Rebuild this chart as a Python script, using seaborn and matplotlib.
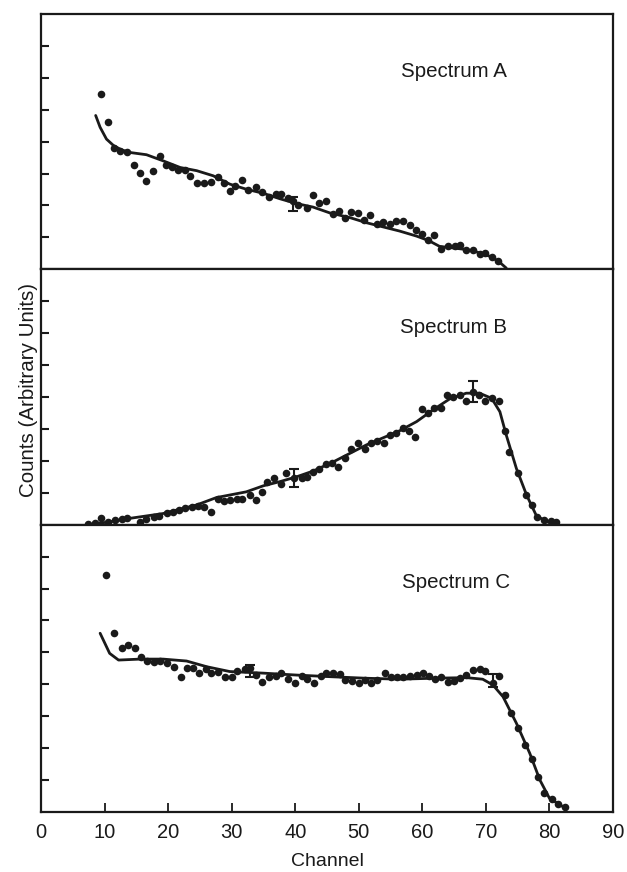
import numpy as np
import pandas as pd
import seaborn as sns
import matplotlib.pyplot as plt

# ---- Spectrum A ----
a_ch = [9.5, 10.6, 11.5, 12.5, 13.6, 14.6, 15.6, 16.5, 17.6, 18.7, 19.7, 20.6, 21.6, 22.6, 23.5,
        24.6, 25.6, 26.7, 27.8, 28.8, 29.7, 30.6, 31.6, 32.6, 33.8, 34.8, 35.8, 36.9, 37.8, 38.8,
        39.7, 40.5, 41.8, 42.8, 43.7, 44.8, 45.9, 46.9, 47.8, 48.8, 49.8, 50.8, 51.7, 52.8, 53.8,
        54.9, 55.9, 57.0, 58.0, 59.0, 59.9, 60.9, 61.8, 62.9, 64.0, 65.1, 66.0, 66.9, 68.0, 69.0,
        69.9, 71.0, 71.9]
a_counts = [5.48, 4.60, 3.81, 3.72, 3.69, 3.28, 3.03, 2.77, 3.08, 3.56, 3.28, 3.19, 3.10, 3.11, 2.91,
            2.69, 2.69, 2.74, 2.90, 2.72, 2.46, 2.60, 2.79, 2.50, 2.58, 2.43, 2.27, 2.35, 2.35, 2.25,
            2.14, 2.02, 1.93, 2.32, 2.07, 2.14, 1.72, 1.83, 1.62, 1.80, 1.75, 1.56, 1.69, 1.41, 1.48,
            1.41, 1.51, 1.51, 1.39, 1.22, 1.12, 0.91, 1.06, 0.64, 0.72, 0.72, 0.76, 0.62, 0.59, 0.49,
            0.51, 0.39, 0.25]
a_fit_ch = [8.6, 9.3, 10.3, 11.4, 12.6, 14.0, 16.6, 19.2, 21.9, 24.5, 27.1, 29.7, 32.3, 35.0, 37.6,
            40.2, 42.8, 45.4, 48.6, 51.2, 53.8, 56.4, 59.1, 61.0, 62.7, 64.8, 66.9, 68.8, 70.6, 72.0, 73.2]
a_fit = [4.82, 4.45, 4.08, 3.88, 3.75, 3.66, 3.59, 3.40, 3.19, 3.09, 2.93, 2.67, 2.51, 2.38, 2.21,
         2.06, 1.95, 1.77, 1.62, 1.46, 1.33, 1.20, 1.04, 0.90, 0.72, 0.67, 0.62, 0.53, 0.41, 0.25, 0.04]
a_err_ch = [39.7]
a_err_y = [2.05]
a_err = [0.22]

# ---- Spectrum B ----
b_ch = [7.4, 8.5, 9.5, 10.6, 11.6, 12.7, 13.6, 15.6, 16.5, 17.7, 18.6, 19.8, 20.7, 21.7, 22.7,
        23.7, 24.7, 25.7, 26.7, 27.8, 28.8, 29.7, 30.8, 31.7, 32.9, 33.8, 34.7, 35.6, 36.7, 37.7,
        38.6, 39.8, 41.0, 41.9, 42.8, 43.8, 44.8, 45.8, 46.8, 47.8, 48.8, 49.9, 50.9, 51.9, 52.9,
        54.0, 54.9, 55.9, 57.0, 57.9, 58.8, 59.9, 60.9, 61.8, 62.9, 63.9, 64.8, 65.9, 66.8, 67.9,
        68.9, 69.9, 70.9, 72.0, 73.0, 73.7, 75.1, 76.3, 77.2, 78.1, 79.1, 80.2, 81.1]
b_counts = [0.01, 0.04, 0.20, 0.07, 0.15, 0.17, 0.20, 0.09, 0.18, 0.25, 0.28, 0.38, 0.41, 0.46, 0.51,
            0.54, 0.59, 0.54, 0.41, 0.81, 0.74, 0.77, 0.79, 0.82, 0.93, 0.77, 1.03, 1.33, 1.47, 1.26,
            1.61, 1.47, 1.47, 1.50, 1.66, 1.76, 1.90, 1.92, 1.80, 2.08, 2.36, 2.55, 2.36, 2.55, 2.63,
            2.57, 2.81, 2.86, 3.02, 2.95, 2.76, 3.61, 3.49, 3.65, 3.65, 4.07, 4.01, 4.07, 3.88, 4.17,
            4.07, 3.88, 3.98, 3.88, 2.95, 2.29, 1.61, 0.93, 0.62, 0.25, 0.15, 0.12, 0.09]
b_fit_ch = [7.4, 10.8, 14.0, 19.2, 24.5, 27.6, 32.3, 35.0, 37.6, 40.2, 42.8, 46.0, 51.2, 56.4,
            59.1, 61.7, 64.3, 66.9, 69.0, 70.9, 72.2, 73.2, 74.8, 76.4, 77.9, 79.5, 81.1]
b_fit = [0.0, 0.09, 0.20, 0.35, 0.62, 0.85, 1.03, 1.22, 1.35, 1.50, 1.68, 1.97, 2.50, 2.94,
         3.23, 3.60, 3.94, 4.12, 4.12, 3.96, 3.54, 2.81, 1.76, 0.93, 0.30, 0.09, 0.04]
b_err_ch = [39.8, 67.9]
b_err_y = [1.47, 4.17]
b_err = [0.28, 0.32]

# ---- Spectrum C ----
c_ch = [10.3, 11.5, 12.8, 13.7, 14.8, 15.8, 16.6, 17.8, 18.8, 19.8, 20.9, 22.0, 22.9, 23.9, 24.9,
        25.9, 26.8, 27.9, 28.9, 30.0, 30.9, 32.1, 32.9, 33.9, 34.8, 35.9, 36.9, 37.8, 38.9, 39.9,
        41.0, 41.9, 43.0, 44.0, 44.9, 46.0, 47.0, 47.9, 49.0, 50.0, 51.0, 51.9, 52.9, 54.1, 55.0,
        56.0, 57.0, 58.0, 59.1, 60.1, 61.1, 62.0, 63.0, 64.0, 65.0, 65.9, 66.8, 68.0, 69.0, 69.9,
        71.1, 72.0, 73.0, 74.0, 75.0, 76.2, 77.2, 78.2, 79.2, 80.4, 81.3, 82.4]
c_counts = [7.41, 5.60, 5.15, 5.24, 5.15, 4.87, 4.74, 4.71, 4.74, 4.66, 4.55, 4.24, 4.50, 4.50, 4.37,
            4.47, 4.37, 4.40, 4.22, 4.22, 4.43, 4.47, 4.50, 4.29, 4.07, 4.22, 4.27, 4.37, 4.17, 4.03,
            4.27, 4.16, 4.05, 4.27, 4.35, 4.37, 4.33, 4.14, 4.10, 4.05, 4.14, 4.03, 4.12, 4.37, 4.24,
            4.22, 4.22, 4.26, 4.29, 4.35, 4.26, 4.16, 4.24, 4.07, 4.10, 4.19, 4.29, 4.45, 4.47, 4.43,
            4.03, 4.26, 3.67, 3.11, 2.62, 2.10, 1.65, 1.09, 0.60, 0.40, 0.24, 0.15]
c_fit_ch = [9.3, 10.8, 12.2, 15.6, 19.2, 22.9, 26.1, 29.7, 35.0, 40.2, 45.4, 51.2, 56.4, 61.7,
            66.9, 69.5, 71.1, 72.7, 74.8, 76.9, 78.5, 80.0, 82.1]
c_fit = [5.60, 4.97, 4.76, 4.79, 4.79, 4.73, 4.55, 4.40, 4.35, 4.29, 4.24, 4.19, 4.16, 4.19,
         4.21, 4.16, 3.98, 3.61, 2.78, 1.84, 1.00, 0.43, 0.17]
c_err_ch = [32.9, 71.1]
c_err_y = [4.42, 4.12]
c_err = [0.19, 0.21]

panels = [
    ('Spectrum A', a_ch, a_counts, a_fit_ch, a_fit, a_err_ch, a_err_y, a_err, 8, (64.9, 6.03)),
    ('Spectrum B', b_ch, b_counts, b_fit_ch, b_fit, b_err_ch, b_err_y, b_err, 8, (64.9, 6.0)),
    ('Spectrum C', c_ch, c_counts, c_fit_ch, c_fit, c_err_ch, c_err_y, c_err, 9, (65.3, 7.01)),
]

sns.set_style('white')
plt.rcParams['font.family'] = ['Liberation Sans', 'DejaVu Sans']

ink = '#1a1a1a'
fig, axes = plt.subplots(3, 1, figsize=(6.27, 8.72), dpi=100, sharex=True,
                         gridspec_kw={'height_ratios': [8, 8, 9], 'hspace': 0})
fig.subplots_adjust(left=0.0654, right=0.9777, top=0.984, bottom=0.0688)

for ax, (name, ch, cnt, fch, fit, ech, ey, ee, ymax, pos) in zip(axes, panels):
    pts = pd.DataFrame({'channel': ch, 'counts': cnt})
    curve = pd.DataFrame({'channel': fch, 'counts': fit})
    sns.lineplot(data=curve, x='channel', y='counts', ax=ax, color=ink, lw=2.0,
                 sort=False, estimator=None)
    sns.scatterplot(data=pts, x='channel', y='counts', ax=ax, color=ink, s=30,
                    linewidth=0, zorder=3)
    ax.errorbar(ech, ey, yerr=ee, fmt='none', ecolor=ink, elinewidth=1.5,
                capsize=3.5, capthick=1.5, zorder=4)
    ax.text(pos[0], pos[1], name, ha='center', va='baseline', fontsize=14.8, color=ink)

    ax.set_xlim(0, 90)
    ax.set_ylim(0, ymax)
    ax.set_yticks(range(1, ymax))
    ax.set_yticklabels([])
    ax.set_xlabel('')
    ax.set_ylabel('')
    for sp in ax.spines.values():
        sp.set_linewidth(1.6)
        sp.set_color(ink)
    ax.tick_params(axis='y', direction='in', length=6, width=1.5, color=ink, left=True)
    ax.tick_params(axis='x', bottom=False, labelbottom=False)

bottom = axes[-1]
bottom.set_xticks(range(0, 91, 10))
bottom.tick_params(axis='x', direction='in', length=6.5, width=1.3, color=ink,
                   bottom=True, labelbottom=True, labelsize=14.5, pad=8, labelcolor=ink)

fig.text(0.0447, 0.5528, 'Counts (Arbitrary Units)', rotation=90, ha='center', va='center',
         fontsize=14.8, color=ink)
fig.text(0.5215, 0.0126, 'Channel', ha='center', va='center', fontsize=14, color=ink)

plt.savefig('out.png', dpi=100)
